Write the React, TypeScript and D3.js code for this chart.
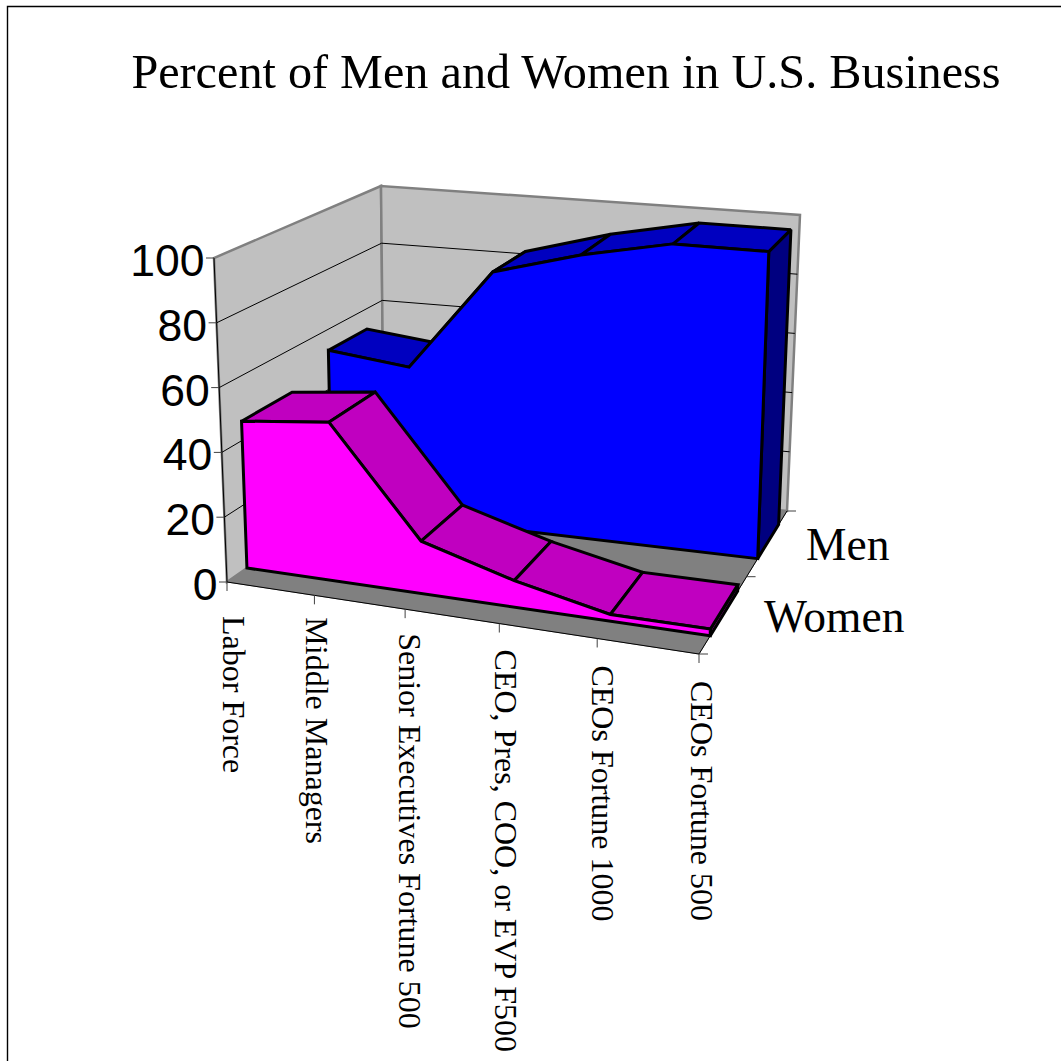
import { useMemo } from "react";
import * as d3 from "d3";

const title = "Percent of Men and Women in U.S. Business";
const categories = [
  "Labor Force",
  "Middle Managers",
  "Senior Executives Fortune 500",
  "CEO, Pres, COO, or EVP F500",
  "CEOs Fortune 1000",
  "CEOs Fortune 500",
];
const women = [46, 49, 16, 8, 2, 2];
const men = [53, 50, 84, 92, 98, 98];
const valueTicks = [0, 20, 40, 60, 80, 100];
const gridTicks = [20, 40, 60, 80];
const labelNudgeX = [2, -2, 0, 2, 1, -2];
const labelNudgeY = [8, -4, -2, 0, 1, 1];

const SIZE = 1061;
type P = [number, number];

// box corners on screen: f/b = front/back, l/r = left/right, 0/1 = floor/top
const corners = {
  fl0: [227, 582] as P,
  fl1: [214, 258] as P,
  fr0: [699, 654] as P,
  fr1: [707, 306] as P,
  bl0: [384, 472] as P,
  bl1: [381, 186] as P,
  br0: [787, 511] as P,
  br1: [800, 215] as P,
};

// foreshortening, nearer parts of the box look bigger
const warp = (t: number, k: number) => t / (t + k * (1 - t));

const uScale = d3.scalePoint<string>().domain(categories).range([0, 1]);
const vScale = d3.scaleLinear().domain([0, 100]).range([0, 1]);

const mix = (a: P, b: P, t: number): P => [a[0] + (b[0] - a[0]) * t, a[1] + (b[1] - a[1]) * t];

// u along categories, v up the value axis, w into the depth, all 0..1
function project(u: number, v: number, w: number): P {
  const uu = warp(u, 1.1);
  const ww = warp(w, 0.85);
  const front = mix(mix(corners.fl0, corners.fr0, uu), mix(corners.fl1, corners.fr1, uu), v);
  const back = mix(mix(corners.bl0, corners.br0, uu), mix(corners.bl1, corners.br1, uu), v);
  return mix(front, back, ww);
}

const poly = d3.line<P>();
const closed = (pts: P[]) => poly(pts) + "Z";

function Ribbon({ values, z0, z1, face, top, side }: { values: number[]; z0: number; z1: number; face: string; top: string; side: string }) {
  const us = categories.map((c) => uScale(c) as number);
  const vs = values.map((d) => vScale(d));
  const frontPts: P[] = us.map((u, i) => project(u, vs[i], z0));
  const last = us.length - 1;
  return (
    <g stroke="#000" strokeWidth={3} strokeLinejoin="miter" strokeMiterlimit={2}>
      <path d={closed([project(1, 0, z0), project(1, vs[last], z0), project(1, vs[last], z1), project(1, 0, z1)])} fill={side} />
      {us.slice(0, -1).map((u, i) => (
        <path
          key={i}
          fill={top}
          d={closed([project(u, vs[i], z0), project(u, vs[i], z1), project(us[i + 1], vs[i + 1], z1), project(us[i + 1], vs[i + 1], z0)])}
        />
      ))}
      <path d={closed([project(0, 0, z0), ...frontPts, project(1, 0, z0)])} fill={face} />
    </g>
  );
}

export default function App() {
  const gridLines = useMemo(
    () =>
      gridTicks.map((t) => {
        const v = vScale(t);
        return poly([project(0, v, 0), project(0, v, 1), project(1, v, 1)]) as string;
      }),
    []
  );

  return (
    <svg width={SIZE} height={SIZE} style={{ position: "absolute", left: 0, top: 0, background: "#fff" }}>
      {/* page frame, only top and left show */}
      <path d={`M7.5,${SIZE}V6.5H${SIZE}`} fill="none" stroke="#000" strokeWidth={1.4} />
      <text x={566} y={88} textAnchor="middle" fontFamily="'Liberation Serif'" fontSize={48.2}>
        {title}
      </text>

      {/* walls */}
      <path d={closed([corners.fl0, corners.fl1, corners.bl1, corners.bl0])} fill="#c0c0c0" stroke="#808080" strokeWidth={2.5} />
      <path d={closed([corners.bl0, corners.bl1, corners.br1, corners.br0])} fill="#c0c0c0" stroke="#808080" strokeWidth={2.5} />
      {gridLines.map((d, i) => (
        <path key={i} d={d} fill="none" stroke="#000" strokeWidth={1} />
      ))}
      {/* floor */}
      <path d={closed([corners.fl0, corners.fr0, corners.br0, corners.bl0])} fill="#808080" stroke="#808080" />

      <Ribbon values={men} z0={0.63} z1={0.89} face="#0000ff" top="#0000c0" side="#000080" />
      <Ribbon values={women} z0={0.11} z1={0.4} face="#ff00ff" top="#c000c0" side="#c000c0" />

      {/* axes */}
      <path d={poly([corners.fl1, corners.fl0, corners.fr0, corners.br0]) as string} fill="none" stroke="#000" strokeWidth={1} />
      {valueTicks.map((t) => {
        const [x, y] = project(0, vScale(t), 0);
        return (
          <g key={t}>
            <line x1={x - 8} x2={x} y1={y} y2={y} stroke="#404040" />
            <text x={x - 9.5} y={y + 18} textAnchor="end" fontFamily="'Liberation Sans'" fontSize={44.5}>
              {t}
            </text>
          </g>
        );
      })}
      {categories.map((c, i) => {
        const [x, y] = project(uScale(c) as number, 0, 0);
        return (
          <g key={c}>
            <line x1={x} x2={x} y1={y} y2={y + 9} stroke="#404040" />
            <text
              transform={`translate(${x - 6 + labelNudgeX[i]},${y + 26 + labelNudgeY[i]}) rotate(90)`}
              fontFamily="'Liberation Serif'"
              fontSize={32}
            >
              {c}
            </text>
          </g>
        );
      })}
      {[0, 0.5, 1].map((w) => {
        const [x, y] = project(1, 0, w);
        return <line key={w} x1={x} x2={x + 9} y1={y} y2={y} stroke="#404040" />;
      })}
      <text x={806} y={560} fontFamily="'Liberation Serif'" fontSize={45.5}>
        Men
      </text>
      <text x={764} y={632} fontFamily="'Liberation Serif'" fontSize={45.5}>
        Women
      </text>
    </svg>
  );
}
